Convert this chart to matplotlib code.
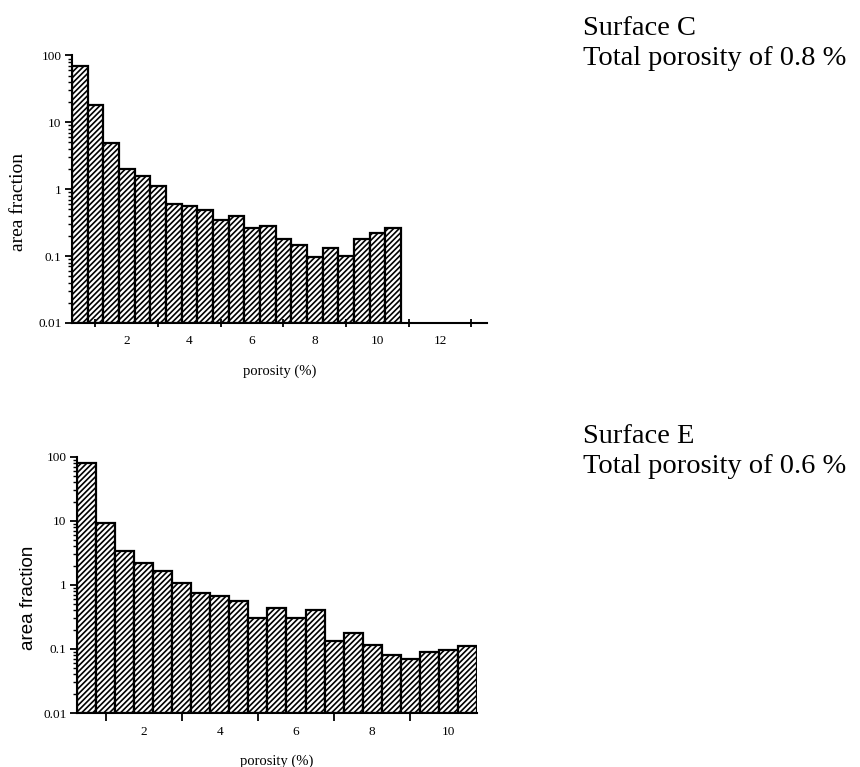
import numpy as np
import matplotlib
matplotlib.use("Agg")
import matplotlib.pyplot as plt
from matplotlib.ticker import FixedLocator, NullFormatter, LogLocator

# bin centres (porosity %), bins 0.5 wide
porosity = [0.5, 1.0, 1.5, 2.0, 2.5, 3.0, 3.5, 4.0, 4.5, 5.0, 5.5,
            6.0, 6.5, 7.0, 7.5, 8.0, 8.5, 9.0, 9.5, 10.0, 10.5]

# surface C area fraction
area_c = [68.5, 18.3, 4.9, 2.02, 1.54, 1.09, 0.586, 0.547, 0.472, 0.338, 0.388,
          0.254, 0.272, 0.170, 0.137, 0.0855, 0.120, 0.0915, 0.170, 0.209, 0.257]

# surface E area fraction
area_e = [80.6, 9.3, 3.43, 2.21, 1.66, 1.07, 0.75, 0.657, 0.562, 0.294, 0.42,
          0.294, 0.392, 0.1255, 0.1675, 0.107, 0.0698, 0.0604, 0.0805, 0.0866, 0.10]

ytick_vals = [0.01, 0.1, 1, 10, 100]
ytick_labels = ["0.01", "0.1", "1", "10", "100"]

plt.rcParams['hatch.linewidth'] = 1.2
serif = ['Liberation Serif', 'DejaVu Serif']
sans = ['Liberation Sans', 'DejaVu Sans']

fig = plt.figure(figsize=(8.6, 7.67), dpi=100)


def draw(ax, vals, xmax, label_ticks, ylab_family, ylab_size, ylab_xy, minor_dir):
    ax.bar(porosity, vals, width=0.5, bottom=0.01, color='white',
           edgecolor='black', linewidth=1.6, hatch='//////')
    ax.set_yscale('log')
    ax.set_ylim(0.01, 100)
    ax.set_xlim(0.25, xmax)
    for s in ['top', 'right']:
        ax.spines[s].set_visible(False)
    for s in ['left', 'bottom']:
        ax.spines[s].set_linewidth(1.5)
    ax.set_yticks(ytick_vals)
    ax.set_yticklabels(ytick_labels, family=serif, fontsize=9.5)
    ax.yaxis.set_minor_locator(LogLocator(base=10, subs=np.arange(2, 10)))
    ax.yaxis.set_minor_formatter(NullFormatter())
    ax.tick_params(axis='y', which='major', direction='out', length=5, width=1.3, pad=2.5)
    ax.tick_params(axis='y', which='minor', direction='out', length=3, width=1.0)
    ax.set_xticks(label_ticks)
    ax.set_xticklabels([str(t) for t in label_ticks], family=serif, fontsize=9.5)
    ax.xaxis.set_minor_locator(FixedLocator(np.arange(1, xmax, 2)))
    ax.tick_params(axis='x', which='major', length=0, pad=9)
    ax.tick_params(axis='x', which='minor', direction=minor_dir, length=6, width=1.3)
    ax.set_xlabel('porosity (%)', family=serif, fontsize=10.5, labelpad=12)
    ax.set_ylabel('area fraction', family=ylab_family, fontsize=ylab_size)
    ax.yaxis.label.set(va='center', ha='center')
    ax.yaxis.set_label_coords(*ylab_xy)


ax1 = fig.add_axes([0.0837, 0.5789, 0.4826, 0.3488])
draw(ax1, area_c, 13.5, [2, 4, 6, 8, 10, 12], serif, 14, (-0.128, 0.453), 'inout')

ax2 = fig.add_axes([0.0895, 0.0704, 0.4651, 0.3338])
draw(ax2, area_e, 10.75, [2, 4, 6, 8, 10], sans, 13.5, (-0.12, 0.449), 'out')

fig.text(583 / 860, 1 - 35 / 767, 'Surface C', family=serif, fontsize=20.5, va='baseline')
fig.text(583 / 860, 1 - 65 / 767, 'Total porosity of 0.8 %', family=serif, fontsize=20.5, va='baseline')
fig.text(583 / 860, 1 - 443 / 767, 'Surface E', family=serif, fontsize=20.5, va='baseline')
fig.text(583 / 860, 1 - 473 / 767, 'Total porosity of 0.6 %', family=serif, fontsize=20.5, va='baseline')

fig.savefig('out.png', dpi=100)
